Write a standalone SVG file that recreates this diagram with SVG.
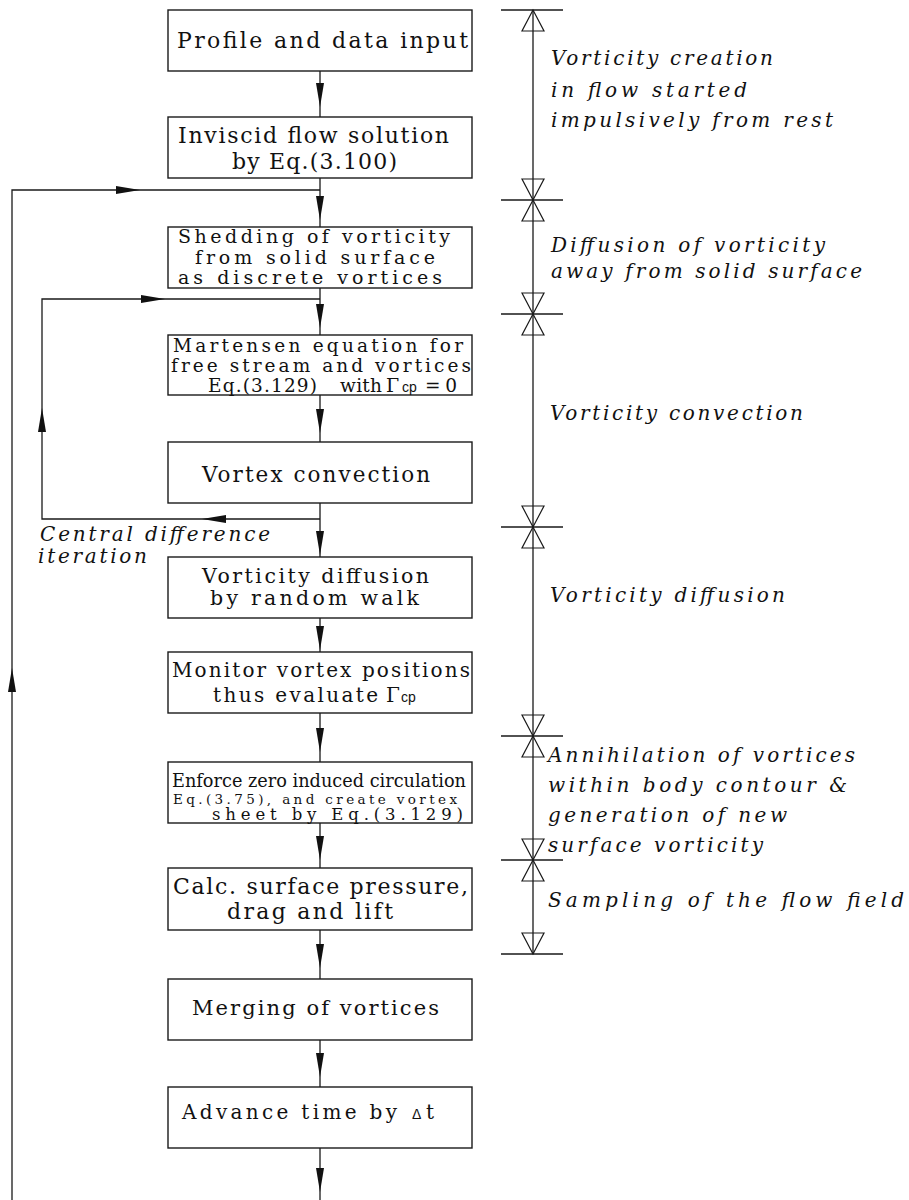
<svg xmlns="http://www.w3.org/2000/svg" xmlns:xlink="http://www.w3.org/1999/xlink" width="909" height="1200" viewBox="0 0 909 1200">
<style>
.box{fill:#fff;stroke:#1a1a1a;stroke-width:1.4}
.ln{fill:none;stroke:#1a1a1a;stroke-width:1.3}
.ah{fill:#111;stroke:none}
.tri{fill:none;stroke:#1a1a1a;stroke-width:1.2}
.t{font-family:"DejaVu Serif","Liberation Serif",serif;fill:#111}
.it{font-family:"DejaVu Serif","Liberation Serif",serif;font-style:italic;fill:#111;font-size:20px}
.sub{font-family:"Liberation Sans",Arial,sans-serif;fill:#111;font-size:14px}
</style>
<defs>
<path id="ahd" d="M-4,-24 L4,-24 L0,0 Z"/>
<path id="tu" d="M0,0 L-11,21 L11,21 Z"/>
<path id="td" d="M0,0 L-11,-21 L11,-21 Z"/>
</defs>
<rect width="909" height="1200" fill="#fff"/>

<g id="connectors">
<path class="ln" d="M320,71 V117 M320,178 V227 M320,288 V335 M320,395 V442 M320,503 V557 M320,618 V652 M320,713 V762 M320,823 V868 M320,930 V979 M320,1040 V1087 M320,1148 V1200"/>
<path class="ln" d="M12,1200 V190 H320"/>
<path class="ln" d="M320,519 H42 V299 H320"/>
<g class="ah">
<use xlink:href="#ahd" transform="translate(320,107)"/>
<use xlink:href="#ahd" transform="translate(320,220)"/>
<use xlink:href="#ahd" transform="translate(320,328)"/>
<use xlink:href="#ahd" transform="translate(320,433)"/>
<use xlink:href="#ahd" transform="translate(320,555)"/>
<use xlink:href="#ahd" transform="translate(320,650)"/>
<use xlink:href="#ahd" transform="translate(320,752)"/>
<use xlink:href="#ahd" transform="translate(320,860)"/>
<use xlink:href="#ahd" transform="translate(320,968)"/>
<use xlink:href="#ahd" transform="translate(320,1077)"/>
<use xlink:href="#ahd" transform="translate(320,1192)"/>
<use xlink:href="#ahd" transform="translate(140,190) rotate(-90)"/>
<use xlink:href="#ahd" transform="translate(165,299) rotate(-90)"/>
<use xlink:href="#ahd" transform="translate(202,519) rotate(90)"/>
<use xlink:href="#ahd" transform="translate(42,408) rotate(180)"/>
<use xlink:href="#ahd" transform="translate(12,668) rotate(180)"/>
</g>
<text class="it" font-size="19" x="40" y="541" textLength="230" lengthAdjust="spacing">Central difference</text>
<text class="it" font-size="19" x="38" y="563" textLength="109" lengthAdjust="spacing">iteration</text>
</g>

<g id="n1">
<rect class="box" x="168" y="10" width="304" height="61"/>
<text class="t" font-size="22" x="177" y="48" textLength="291" lengthAdjust="spacing">Profile and data input</text>
</g>
<g id="n2">
<rect class="box" x="168" y="117" width="304" height="61"/>
<text class="t" font-size="22" x="178" y="143" textLength="271" lengthAdjust="spacing">Inviscid flow solution</text>
<text class="t" font-size="22" x="232" y="169" textLength="165" lengthAdjust="spacing">by Eq.(3.100)</text>
</g>
<g id="n3">
<rect class="box" x="168" y="227" width="304" height="61"/>
<text class="t" font-size="19" x="178" y="243" textLength="272" lengthAdjust="spacing">Shedding of vorticity</text>
<text class="t" font-size="19" x="195" y="264" textLength="240" lengthAdjust="spacing">from solid surface</text>
<text class="t" font-size="19" x="178" y="284" textLength="264" lengthAdjust="spacing">as discrete vortices</text>
</g>
<g id="n4">
<rect class="box" x="168" y="335" width="304" height="60"/>
<text class="t" font-size="18.5" x="173" y="352" textLength="290" lengthAdjust="spacing">Martensen equation for</text>
<text class="t" font-size="18.5" x="171" y="372" textLength="300" lengthAdjust="spacing">free stream and vortices</text>
<text class="t" font-size="18.5" x="208" y="392" textLength="109" lengthAdjust="spacing">Eq.(3.129)</text>
<text class="t" font-size="18.5" x="340" y="392" textLength="42" lengthAdjust="spacing">with</text>
<text class="t" font-size="19" x="386" y="392">Γ</text>
<text class="sub" x="402" y="392">cp</text>
<text class="t" font-size="18.5" x="425" y="392" textLength="32" lengthAdjust="spacing">=0</text>
</g>
<g id="n5">
<rect class="box" x="168" y="442" width="304" height="61"/>
<text class="t" font-size="21.5" x="202" y="482" textLength="228" lengthAdjust="spacing">Vortex convection</text>
</g>
<g id="n6">
<rect class="box" x="168" y="557" width="304" height="61"/>
<text class="t" font-size="20.5" x="202" y="583" textLength="227" lengthAdjust="spacing">Vorticity diffusion</text>
<text class="t" font-size="20.5" x="210" y="605" textLength="209" lengthAdjust="spacing">by random walk</text>
</g>
<g id="n7">
<rect class="box" x="168" y="652" width="304" height="61"/>
<text class="t" font-size="20" x="172" y="677" textLength="298" lengthAdjust="spacing">Monitor vortex positions</text>
<text class="t" font-size="20" x="213" y="702" textLength="165" lengthAdjust="spacing">thus evaluate</text>
<text class="t" font-size="20" x="386" y="702">Γ</text>
<text class="sub" x="401" y="702">cp</text>
</g>
<g id="n8">
<rect class="box" x="168" y="762" width="304" height="61"/>
<text class="t" font-size="18" x="172" y="787" textLength="294" lengthAdjust="spacingAndGlyphs">Enforce zero induced circulation</text>
<text class="t" font-size="13.5" x="173" y="804" textLength="284" lengthAdjust="spacing">Eq.(3.75), and create vortex</text>
<text class="t" font-size="16.5" x="212" y="820" textLength="251" lengthAdjust="spacing">sheet by Eq.(3.129)</text>
</g>
<g id="n9">
<rect class="box" x="168" y="868" width="304" height="62"/>
<text class="t" font-size="22" x="173" y="894" textLength="295" lengthAdjust="spacing">Calc. surface pressure,</text>
<text class="t" font-size="22" x="227" y="919" textLength="166" lengthAdjust="spacing">drag and lift</text>
</g>
<g id="n10">
<rect class="box" x="168" y="979" width="304" height="61"/>
<text class="t" font-size="21" x="192" y="1015" textLength="247" lengthAdjust="spacing">Merging of vortices</text>
</g>
<g id="n11">
<rect class="box" x="168" y="1087" width="304" height="61"/>
<text class="t" font-size="20" x="182" y="1119" textLength="215" lengthAdjust="spacing">Advance time by</text>
<text class="sub" x="412" y="1119">Δ</text>
<text class="t" font-size="20" x="426" y="1119">t</text>
</g>

<g id="dimension">
<path class="ln" d="M533,10 V954 M501,10 H563 M501,200 H563 M501,314 H563 M501,527 H563 M501,736 H563 M501,860 H563 M501,954 H563"/>
<g class="tri">
<use xlink:href="#tu" transform="translate(533,10)"/>
<use xlink:href="#td" transform="translate(533,200)"/>
<use xlink:href="#tu" transform="translate(533,200)"/>
<use xlink:href="#td" transform="translate(533,314)"/>
<use xlink:href="#tu" transform="translate(533,314)"/>
<use xlink:href="#td" transform="translate(533,527)"/>
<use xlink:href="#tu" transform="translate(533,527)"/>
<use xlink:href="#td" transform="translate(533,736)"/>
<use xlink:href="#tu" transform="translate(533,736)"/>
<use xlink:href="#td" transform="translate(533,860)"/>
<use xlink:href="#tu" transform="translate(533,860)"/>
<use xlink:href="#td" transform="translate(533,954)"/>
</g>
<text class="it" x="551" y="65" textLength="222" lengthAdjust="spacing">Vorticity creation</text>
<text class="it" x="551" y="97" textLength="196" lengthAdjust="spacing">in flow started</text>
<text class="it" x="551" y="127" textLength="282" lengthAdjust="spacing">impulsively from rest</text>
<text class="it" x="551" y="252" textLength="274" lengthAdjust="spacing">Diffusion of vorticity</text>
<text class="it" x="551" y="278" textLength="311" lengthAdjust="spacing">away from solid surface</text>
<text class="it" x="550" y="420" textLength="253" lengthAdjust="spacing">Vorticity convection</text>
<text class="it" x="550" y="602" textLength="235" lengthAdjust="spacing">Vorticity diffusion</text>
<text class="it" x="548" y="762" textLength="307" lengthAdjust="spacing">Annihilation of vortices</text>
<text class="it" x="548" y="792" textLength="299" lengthAdjust="spacing">within body contour &amp;</text>
<text class="it" x="548" y="822" textLength="239" lengthAdjust="spacing">generation of new</text>
<text class="it" x="548" y="852" textLength="215" lengthAdjust="spacing">surface vorticity</text>
<text class="it" x="548" y="907" textLength="356" lengthAdjust="spacing">Sampling of the flow field</text>
</g>
</svg>
